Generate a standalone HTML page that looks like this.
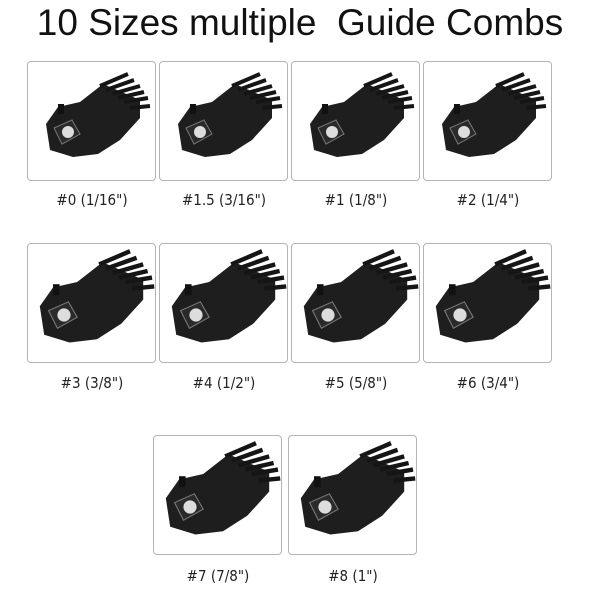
<!DOCTYPE html>
<html><head><style>
body{margin:0;width:600px;height:600px;background:#fff;position:relative;overflow:hidden;font-family:"Liberation Sans",sans-serif}
.t{position:absolute;left:0;width:600px;top:2px;text-align:center;font-size:37px;color:#111}
.b{position:absolute;width:129px;height:120px;border:1px solid #b4b4b4;border-radius:4px;box-sizing:border-box;background:#fff}
.l{position:absolute;width:140px;text-align:center;font-size:15px;color:#222;font-family:"DejaVu Sans Condensed","Liberation Sans Narrow","Liberation Sans",sans-serif}
svg{position:absolute;left:0;top:0}
</style></head><body>
<div class="t">10 Sizes multiple&nbsp; Guide Combs</div>
<svg width="0" height="0"><defs>
<g id="c">
<polygon points="18,62 30,45 52,40 75,22 112,38 112,56 92,78 70,92 45,95 22,88" fill="#1e1e1e"/>
<g stroke="#151515" stroke-width="4">
<line x1="72" y1="24" x2="100" y2="12"/><line x1="78" y1="28" x2="106" y2="18"/><line x1="84" y1="32" x2="112" y2="24"/><line x1="90" y1="36" x2="116" y2="30"/><line x1="96" y1="40" x2="120" y2="36"/><line x1="102" y1="46" x2="122" y2="44"/>
</g>
<rect x="30" y="42" width="6" height="10" fill="#111"/>
<polygon points="26,66 44,58 52,72 34,82" fill="#2a2a2a" stroke="#777" stroke-width="1"/>
<circle cx="40" cy="70" r="6" fill="#ddd"/>
</g>
<g id="d"><use href="#c" transform="translate(-8,-6) scale(1.1)"/></g>
</defs></svg>

<div class="b" style="left:27px;top:61px"><svg width="129" height="120"><use href="#c"/></svg></div>
<div class="b" style="left:159px;top:61px"><svg width="129" height="120"><use href="#c"/></svg></div>
<div class="b" style="left:291px;top:61px"><svg width="129" height="120"><use href="#c"/></svg></div>
<div class="b" style="left:423px;top:61px"><svg width="129" height="120"><use href="#c"/></svg></div>
<div class="l" style="left:22px;top:191px">#0 (1/16")</div>
<div class="l" style="left:154px;top:191px">#1.5 (3/16")</div>
<div class="l" style="left:286px;top:191px">#1 (1/8")</div>
<div class="l" style="left:418px;top:191px">#2 (1/4")</div>

<div class="b" style="left:27px;top:243px"><svg width="129" height="120"><use href="#d"/></svg></div>
<div class="b" style="left:159px;top:243px"><svg width="129" height="120"><use href="#d"/></svg></div>
<div class="b" style="left:291px;top:243px"><svg width="129" height="120"><use href="#d"/></svg></div>
<div class="b" style="left:423px;top:243px"><svg width="129" height="120"><use href="#d"/></svg></div>
<div class="l" style="left:22px;top:374px">#3 (3/8")</div>
<div class="l" style="left:154px;top:374px">#4 (1/2")</div>
<div class="l" style="left:286px;top:374px">#5 (5/8")</div>
<div class="l" style="left:418px;top:374px">#6 (3/4")</div>

<div class="b" style="left:153px;top:435px"><svg width="129" height="120"><use href="#d"/></svg></div>
<div class="b" style="left:288px;top:435px"><svg width="129" height="120"><use href="#d"/></svg></div>
<div class="l" style="left:148px;top:567px">#7 (7/8")</div>
<div class="l" style="left:283px;top:567px">#8 (1")</div>
</body></html>
